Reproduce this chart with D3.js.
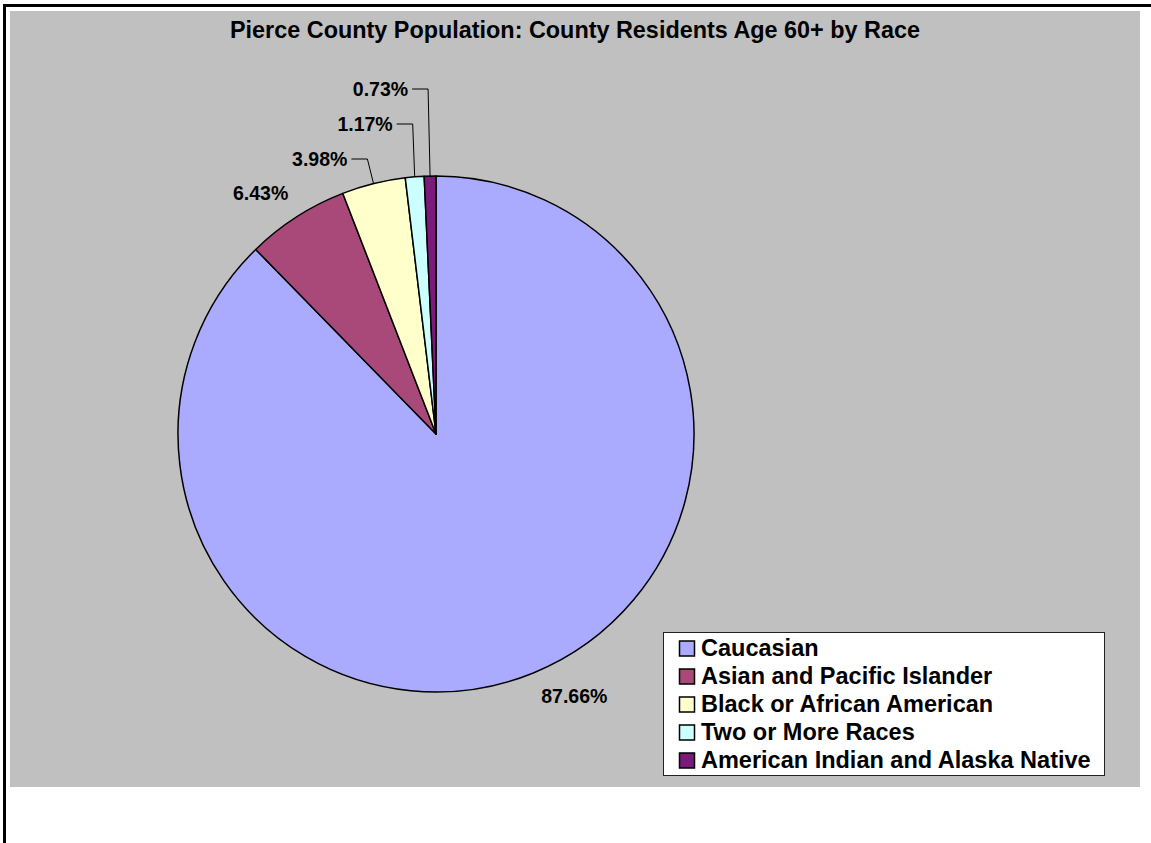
<!DOCTYPE html>
<html>
<head>
<meta charset="utf-8">
<script src="https://cdn.jsdelivr.net/npm/d3@7"></script>
<style>
  html, body { margin: 0; background: #fff; overflow: hidden; }
  svg { display: block; font-family: "Liberation Sans", Arial, sans-serif; }
</style>
</head>
<body>
<svg id="chart" width="1151" height="843"></svg>
<script>
const title = "Pierce County Population: County Residents Age 60+ by Race";
const categories = ["Caucasian", "Asian and Pacific Islander", "Black or African American", "Two or More Races", "American Indian and Alaska Native"];
const values = [87.66, 6.43, 3.98, 1.17, 0.73];
const colors = ["#AAAAFF", "#A8497A", "#FFFFCC", "#CCFFFF", "#7A1A7A"];
// small angular nudge (degrees) of the outside labels, as placed in the original
const labelNudge = [-3.7, -1.5, 0, 0, 0];

const svg = d3.select("#chart");
const W = 1151, H = 843;

svg.append("rect").attr("x", 0).attr("y", 0).attr("width", W).attr("height", H).attr("fill", "#fff");
// outer frame (left and top edges visible)
svg.append("path").attr("d", `M4.5,${H} L4.5,5.5 L${W},5.5`)
  .attr("fill", "none").attr("stroke", "#000").attr("stroke-width", 3);
// chart area
const area = { x: 10, y: 11, w: 1130, h: 776 };
svg.append("rect").attr("x", area.x).attr("y", area.y).attr("width", area.w).attr("height", area.h)
  .attr("fill", "#C0C0C0");

svg.append("text").attr("x", area.x + area.w / 2).attr("y", 38)
  .attr("text-anchor", "middle").attr("font-weight", "bold").attr("font-size", 23.4)
  .text(title);

const cx = 436, cy = 434, r = 258;
const g = svg.append("g").attr("transform", `translate(${cx},${cy})`);

const pie = d3.pie().sort(null).value(d => d.v);
const data = pie(values.map((v, i) => ({ v, i })));
const arc = d3.arc().innerRadius(0).outerRadius(r);

g.selectAll("path.slice").data(data).join("path")
  .attr("class", "slice")
  .attr("d", arc)
  .attr("fill", d => colors[d.data.i])
  .attr("stroke", "#000").attr("stroke-width", 1.5).attr("stroke-linejoin", "round");

// labels
const fmt = v => v.toFixed(2) + "%";
const labelFont = 19.5;
const tmp = svg.append("text").attr("font-weight", "bold").attr("font-size", labelFont);
function textWidth(s) { tmp.text(s); return tmp.node().getComputedTextLength(); }

let small = 0;
data.forEach(d => {
  const mid = (d.startAngle + d.endAngle) / 2;
  const dx = Math.sin(mid), dy = -Math.cos(mid);
  const txt = fmt(d.data.v);
  const tw = textWidth(txt);
  const capH = labelFont * 0.716;
  if (d.data.v >= 5) {
    const gap = 26;
    const la = mid + labelNudge[d.data.i] * Math.PI / 180;
    const lx = Math.sin(la), ly = -Math.cos(la);
    const bx = lx * (r + gap) + lx * tw / 2;
    const by = ly * (r + gap) + ly * capH / 2;
    g.append("text").attr("x", bx).attr("y", by + capH / 2)
      .attr("text-anchor", "middle").attr("font-weight", "bold").attr("font-size", labelFont)
      .text(txt);
  } else {
    const ax = dx * r, ay = dy * r;
    const levelY = -r - 17 - 35 * small;
    let topX;
    if (d.data.v > 3) {
      topX = ax + dx / dy * (levelY - ay);
    } else {
      topX = ax - 2;
    }
    const endX = topX - 16;
    g.append("polyline")
      .attr("points", [[ax, ay], [topX, levelY], [endX, levelY]].map(p => p.join(",")).join(" "))
      .attr("fill", "none").attr("stroke", "#000").attr("stroke-width", 1);
    g.append("text").attr("x", endX - 4).attr("y", levelY + capH / 2)
      .attr("text-anchor", "end").attr("font-weight", "bold").attr("font-size", labelFont)
      .text(txt);
    small++;
  }
});
tmp.remove();

// legend
const lg = { x: 663.5, y: 632.5, w: 441, h: 143 };
svg.append("rect").attr("x", lg.x).attr("y", lg.y).attr("width", lg.w).attr("height", lg.h)
  .attr("fill", "#fff").attr("stroke", "#222").attr("stroke-width", 1);
const rows = svg.append("g").selectAll("g").data(categories).join("g")
  .attr("transform", (d, i) => `translate(0, ${656 + 28 * i})`);
rows.append("rect").attr("x", 679.5).attr("y", -15).attr("width", 15).attr("height", 15)
  .attr("fill", (d, i) => colors[i]).attr("stroke", "#000").attr("stroke-width", 1.5);
rows.append("text").attr("x", 701).attr("y", 0)
  .attr("font-weight", "bold").attr("font-size", 23.5)
  .text(d => d);
</script>
</body>
</html>
